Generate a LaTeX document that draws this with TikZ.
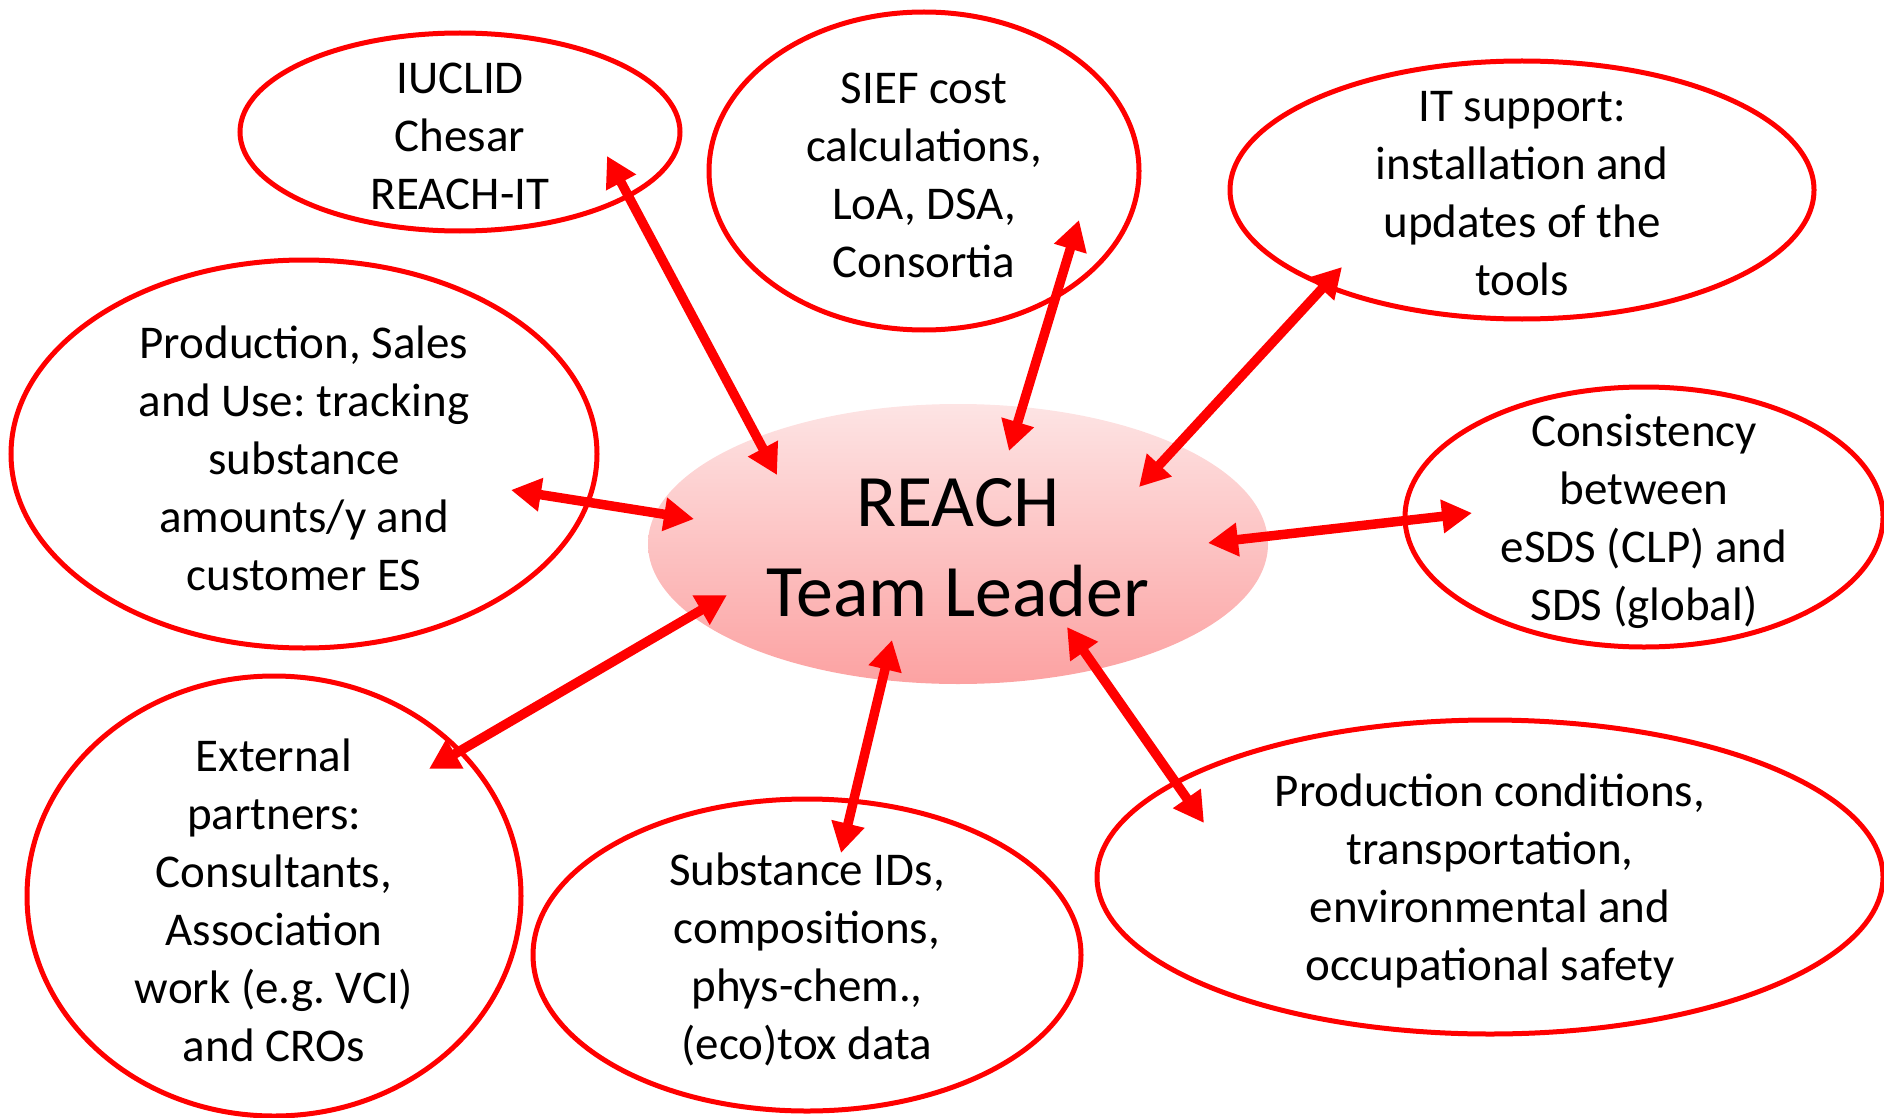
\documentclass[tikz,border=0pt]{standalone}
\usepackage{fontspec}
\setmainfont{Carlito}
\usetikzlibrary{shapes.geometric,arrows.meta}
\begin{document}
\frenchspacing
\begin{tikzpicture}
[
    x=1pt, y=-1pt,
    topic/.style={ellipse, draw=red, line width=5pt, inner sep=0pt},
    topictext/.style={align=center, inner sep=0pt, yshift=-4pt,
        font=\fontsize{47}{58}\selectfont},
    leader/.style={ellipse, inner sep=0pt,
        top color={rgb,255:red,253;green,228;blue,228},
        bottom color={rgb,255:red,252;green,162;blue,162}},
    leadertext/.style={align=center, inner sep=0pt, yshift=-4pt,
        font=\fontsize{74}{90}\selectfont},
    link/.style={red, line width=9.5pt,
        {Triangle[length=30pt,width=32pt]}-{Triangle[length=30pt,width=32pt]}},
]
\useasboundingbox (0,0) rectangle (1884,1118);

\node[leader, minimum width=620pt, minimum height=280pt,
    label={[leadertext]center:{REACH\\Team Leader}}] (lead) at (958,544) {};

\node[topic, minimum width=440pt, minimum height=198pt,
    label={[topictext]center:{IUCLID\\Chesar\\REACH-IT}}] (iuclid) at (460,132) {};
\node[topic, minimum width=430pt, minimum height=318pt,
    label={[topictext]center:{SIEF cost\\calculations,\\LoA, DSA,\\Consortia}}] (sief) at (924,171) {};
\node[topic, minimum width=584pt, minimum height=258pt,
    label={[topictext]center:{IT support:\\installation and\\updates of the\\tools}}] (itsup) at (1522,190) {};
\node[topic, minimum width=586pt, minimum height=388pt,
    label={[topictext]center:{Production, Sales\\and Use: tracking\\substance\\amounts/y and\\customer ES}}] (prodsales) at (304,454) {};
\node[topic, minimum width=478pt, minimum height=260pt,
    label={[topictext]center:{Consistency\\between\\eSDS (CLP) and\\SDS (global)}}] (consist) at (1644,517) {};
\node[topic, minimum width=494pt, minimum height=440pt,
    label={[topictext]center:{External\\partners:\\Consultants,\\Association\\work (e.g. VCI)\\and CROs}}] (external) at (274,896) {};
\node[topic, minimum width=548pt, minimum height=312pt,
    label={[topictext]center:{Substance IDs,\\compositions,\\phys-chem.,\\(eco)tox data}}] (substance) at (807,955) {};
\node[topic, minimum width=786pt, minimum height=314pt,
    label={[topictext]center:{Production conditions,\\transportation,\\environmental and\\occupational safety}}] (prodcond) at (1490,877) {};

\coordinate (iuclid-in) at (777,475);
\coordinate (iuclid-out) at (607,156);
\coordinate (sief-in) at (1009,451);
\coordinate (sief-out) at (1079,220);
\coordinate (itsup-in) at (1139,487);
\coordinate (itsup-out) at (1342,267);
\coordinate (prodsales-in) at (694,519);
\coordinate (prodsales-out) at (511,490);
\coordinate (consist-in) at (1208,543);
\coordinate (consist-out) at (1472,513);
\coordinate (external-in) at (727,595);
\coordinate (external-out) at (429,769);
\coordinate (substance-in) at (892,640);
\coordinate (substance-out) at (841,853);
\coordinate (prodcond-in) at (1067,627);
\coordinate (prodcond-out) at (1204,823);

\foreach \t in {iuclid,sief,itsup,prodsales,consist,external,substance,prodcond}
    \draw[link] (\t-in) -- (\t-out);
\end{tikzpicture}
\end{document}
